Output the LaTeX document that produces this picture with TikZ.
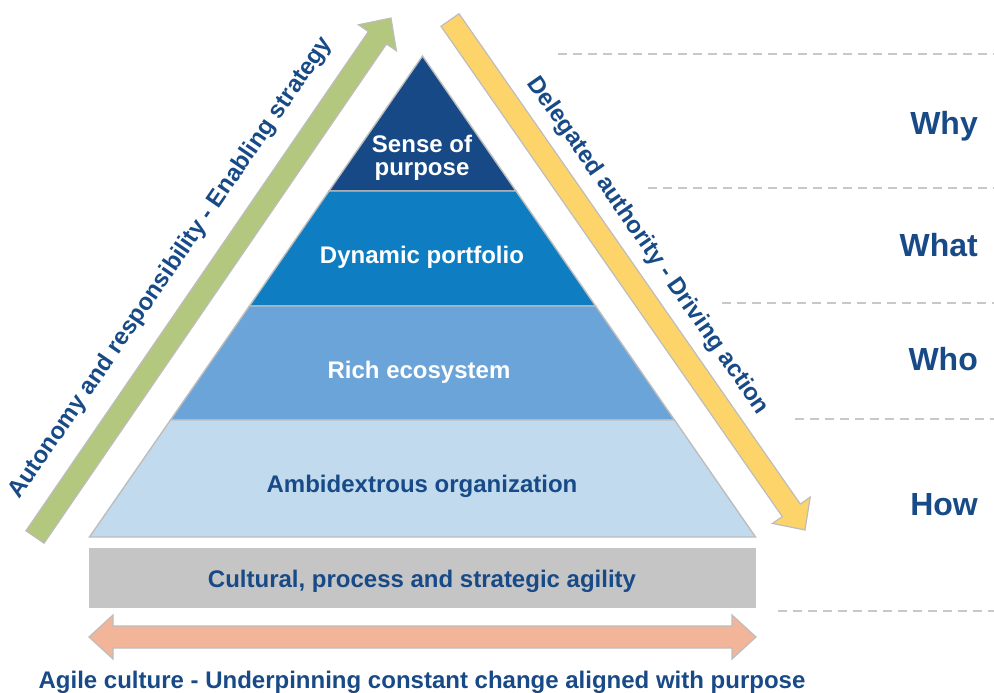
\documentclass[tikz,border=0pt]{standalone}
\usepackage{fontspec}
\setmainfont{Liberation Sans}
\usetikzlibrary{calc}

\definecolor{navy}{HTML}{174A86}
\definecolor{lyrA}{HTML}{164985}
\definecolor{lyrB}{HTML}{0F7DC2}
\definecolor{lyrC}{HTML}{6BA4D8}
\definecolor{lyrD}{HTML}{C2DAED}
\definecolor{barGray}{HTML}{C6C5C6}
\definecolor{edgeGray}{HTML}{BDBDBD}
\definecolor{dashGray}{HTML}{C8C8C8}
\definecolor{arrGreen}{HTML}{B3C77E}
\definecolor{arrYellow}{HTML}{FDD46A}
\definecolor{arrSalmon}{HTML}{F2B59A}

% wide block arrow from #2 to #3, coordinate prefix #4
\newcommand\blockarrow[4]{%
  \coordinate (#4h) at ($(#3)!24pt!(#2)$);
  \draw[#1] ($(#2)!11pt!90:(#3)$) -- ($(#4h)!11pt!90:(#3)$)
     -- ($(#4h)!23pt!90:(#3)$) -- (#3) -- ($(#4h)!23pt!-90:(#3)$)
     -- ($(#4h)!11pt!-90:(#3)$) -- ($(#2)!11pt!-90:(#3)$) -- cycle;}

\tikzset{
  layer/.style={draw=edgeGray, line width=1.4pt, line join=miter},
  shape edge/.style={draw=edgeGray, line width=1.2pt, line join=miter},
  lbl/.style={font=\fontsize{24}{23}\selectfont\bfseries, text=navy, inner sep=0pt},
  wlbl/.style={lbl, text=white},
  side/.style={font=\fontsize{32}{36}\selectfont\bfseries, text=navy, inner sep=0pt, anchor=base east},
  guide/.style={draw=dashGray, line width=2pt, dash pattern=on 9pt off 6pt},
}

\begin{document}
\begin{tikzpicture}[x=1pt, y=-1pt]
\useasboundingbox (0,0) rectangle (994,693);

% pyramid outline points
\coordinate (apex) at (422.5,56);
\coordinate (l1) at (329,191);   \coordinate (r1) at (516,191);
\coordinate (l2) at (249.4,306); \coordinate (r2) at (595.6,306);
\coordinate (l3) at (170.5,420); \coordinate (r3) at (674.5,420);
\coordinate (l4) at (89.5,537);  \coordinate (r4) at (755.5,537);

% pyramid layers
\draw[layer, fill=lyrA] (apex) -- (r1) -- (l1) -- cycle;
\draw[layer, fill=lyrB] (l1) -- (r1) -- (r2) -- (l2) -- cycle;
\draw[layer, fill=lyrC] (l2) -- (r2) -- (r3) -- (l3) -- cycle;
\draw[layer, fill=lyrD] (l3) -- (r3) -- (r4) -- (l4) -- cycle;

% base bar
\fill[barGray] (89,548) rectangle (756,608);

% side arrows
\coordinate (gS) at (35,537);
\coordinate (gT) at (391,18);
\coordinate (yS) at (450,20);
\coordinate (yT) at (805,530);
\blockarrow{shape edge, fill=arrGreen}{gS}{gT}{ga}
\blockarrow{shape edge, fill=arrYellow}{yS}{yT}{ya}

% bottom double arrow
\draw[shape edge, fill=arrSalmon] (89,637) -- (113,615) -- (113,626) -- (732,626)
  -- (732,615) -- (756,637) -- (732,659) -- (732,648) -- (113,648) -- (113,659) -- cycle;

% dashed guides
\draw[guide] (558,54) -- (994,54);
\draw[guide] (648,188) -- (994,188);
\draw[guide] (722,303) -- (994,303);
\draw[guide] (795,419) -- (994,419);
\draw[guide] (778,611) -- (994,611);

% layer texts
\node[wlbl, anchor=base] (t1a) at (422,152) {Sense of};
\node[wlbl, anchor=base] (t1b) at (422,175) {purpose};
\node[wlbl, anchor=base] (t2) at (422,263) {Dynamic portfolio};
\node[wlbl, anchor=base] (t3) at (419,378) {Rich ecosystem};
\node[lbl, anchor=base] (t4) at (422,492) {Ambidextrous organization};
\node[lbl, anchor=base] (t5) at (422,587) {Cultural, process and strategic agility};
\node[lbl, anchor=base] (t6) at (422,688) {Agile culture - Underpinning constant change aligned with purpose};

% arrow texts
\node[lbl, rotate=55.6] (tg) at ($(gS)!0.475!(gT)!40pt!90:(gT)$) {Autonomy and responsibility - Enabling strategy};
\node[lbl, rotate=-55.2] (ty) at ($(yS)!0.48!(yT)!33pt!90:(yT)$) {Delegated authority - Driving action};

% side questions
\node[side] (why) at (978,135) {Why};
\node[side] (what) at (978,256) {What};
\node[side] (who) at (978,370) {Who};
\node[side] (how) at (978,515) {How};
\end{tikzpicture}
\end{document}
